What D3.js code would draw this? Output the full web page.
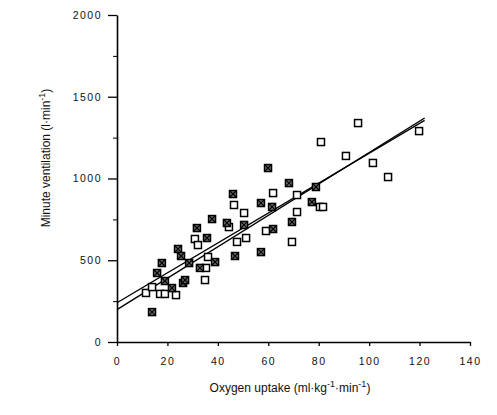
<!DOCTYPE html>
<html><head><meta charset="utf-8">
<script src="https://cdn.jsdelivr.net/npm/d3@7"></script>
<style>body{margin:0;background:#fff}text{font-family:"Liberation Sans",Arial,sans-serif;fill:#111}</style>
</head><body><svg id="c" width="497" height="415"></svg>
<script>
// Open squares
const openX = [11.5,13.9,17.1,19.0,23.4,30.9,32.1,35.3,34.9,36.1,44.4,46.4,50.4,51.2,47.6,59.1,61.9,69.4,71.4,71.4,80.5,81.7,80.9,90.8,95.6,101.5,107.5,119.8];
const openY = [300,336,294,294,287,630,593,453,379,520,703,838,789,636,612,679,911,612,899,795,826,826,1223,1138,1339,1095,1009,1290];
// Hatched squares
const hatchX = [13.9,15.9,17.8,19.0,21.8,24.2,25.4,26.2,27.0,28.6,31.7,32.9,35.7,37.7,38.9,43.6,46.0,46.8,50.4,57.1,57.1,59.9,61.5,61.9,68.2,69.4,77.3,78.9];
const hatchY = [183,422,483,373,330,569,526,361,379,483,697,453,636,752,489,728,905,526,716,850,550,1064,826,691,972,734,856,948];
// Regression lines (x, y endpoints)
const lineAX = [0,122], lineAY = [240,1355];
const lineBX = [0,122], lineBY = [198,1370];
const xTicks = [0,20,40,60,80,100,120,140];
const yTicks = [0,500,1000,1500,2000];

const svg = d3.select("#c");
const x = d3.scaleLinear().domain([0,140]).range([117,470]);
const y = d3.scaleLinear().domain([0,2000]).range([342,15]);

// axes
const xa = svg.append("g").attr("transform","translate(0,342)")
  .call(d3.axisBottom(x).tickValues(xTicks).tickFormat(d3.format("d")).tickSize(4).tickSizeOuter(0).tickPadding(12));
const ya = svg.append("g").attr("transform","translate(117,0)")
  .call(d3.axisLeft(y).tickValues(yTicks).tickFormat(d3.format("d")).tickSize(9).tickSizeOuter(0).tickPadding(6));
svg.append("g").attr("transform","translate(117,0)")
  .call(d3.axisLeft(y).tickValues(d3.range(250,2000,500)).tickSize(4).tickFormat(""))
  .select(".domain").remove();
[xa,ya].forEach(g=>{
  g.select(".domain").attr("stroke","#000").attr("stroke-width",1.6);
  g.selectAll(".tick line").attr("stroke","#000").attr("stroke-width",1.3);
  g.selectAll(".tick text").attr("font-size",10.5).attr("fill","#111").style("letter-spacing","1.5px");
});

// regression lines
const ln = d3.line().x(d=>x(d[0])).y(d=>y(d[1]));
[[lineAX,lineAY],[lineBX,lineBY]].forEach(([lx,ly])=>{
  svg.append("path").attr("d",ln(lx.map((v,i)=>[v,ly[i]])))
    .attr("fill","none").attr("stroke","#000").attr("stroke-width",1.4);
});

const s = 7;
// open markers
svg.append("g").selectAll("rect").data(openX.map((v,i)=>[v,openY[i]])).join("rect")
  .attr("x",d=>x(d[0])-s/2).attr("y",d=>y(d[1])-s/2).attr("width",s).attr("height",s)
  .attr("fill","#fff").attr("stroke","#000").attr("stroke-width",1.5);
// hatched markers
const hg = svg.append("g").selectAll("g").data(hatchX.map((v,i)=>[v,hatchY[i]])).join("g")
  .attr("transform",d=>`translate(${x(d[0])},${y(d[1])})`);
hg.append("rect").attr("x",-s/2).attr("y",-s/2).attr("width",s).attr("height",s)
  .attr("fill","#777").attr("stroke","#000").attr("stroke-width",1.5);
hg.append("path").attr("d",`M${-s/2},${-s/2}L${s/2},${s/2}M${s/2},${-s/2}L${-s/2},${s/2}`)
  .attr("stroke","#000").attr("stroke-width",1.2);

// titles
const xt = svg.append("text").attr("x",290).attr("y",392).attr("text-anchor","middle").attr("font-size",12);
xt.append("tspan").text("Oxygen uptake (ml·kg");
xt.append("tspan").attr("dy",-5).attr("font-size",9).text("-1");
xt.append("tspan").attr("dy",5).text("·min");
xt.append("tspan").attr("dy",-5).attr("font-size",9).text("-1");
xt.append("tspan").attr("dy",5).text(")");
const yt = svg.append("text").attr("transform","translate(50,158) rotate(-90)").attr("text-anchor","middle").attr("font-size",12);
yt.append("tspan").text("Minute ventilation (l·min");
yt.append("tspan").attr("dy",-5).attr("font-size",9).text("-1");
yt.append("tspan").attr("dy",5).text(")");
</script></body></html>
